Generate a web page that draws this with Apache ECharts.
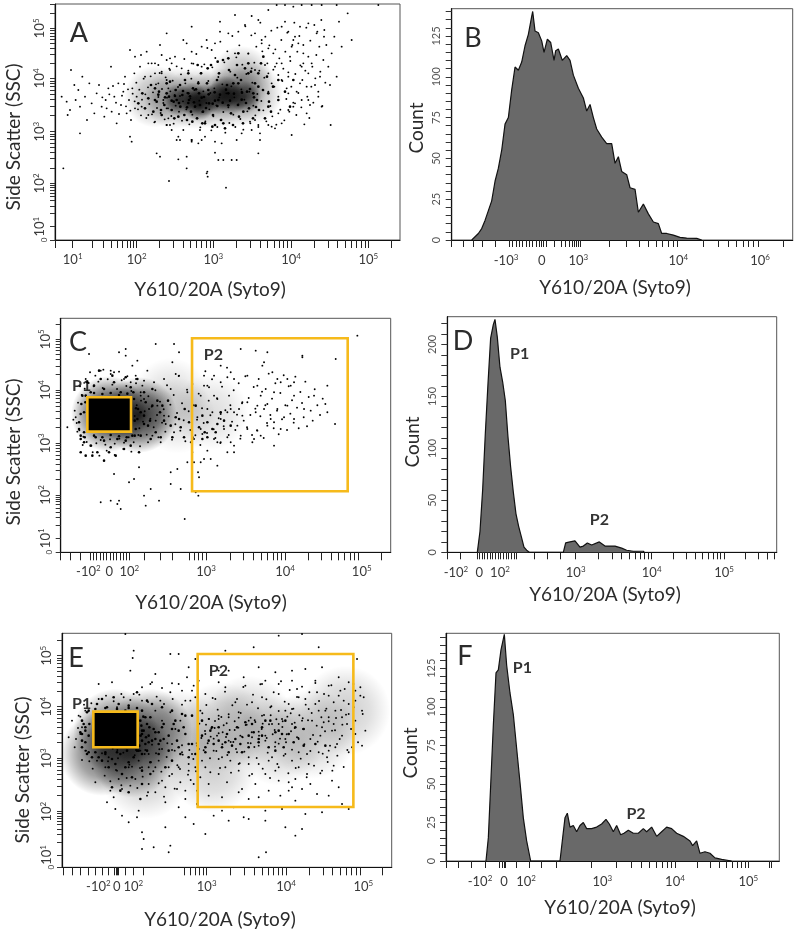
<!DOCTYPE html>
<html><head><meta charset="utf-8">
<style>html,body{margin:0;padding:0;background:#fff}#c{width:800px;height:934px;filter:blur(.35px)}</style>
<script src="https://cdn.jsdelivr.net/npm/echarts@6/dist/echarts.min.js"></script></head>
<body><div id="c"></div>
<script>
// All event values are display channels (flat x,y pairs).
const sparseA=[20,430,35,415,38,375,45,390,48,510,58,465,62,420,70,450,75,400,82,490,90,430,96,360,103,470,110,410,118,380,125,440,132,465,140,400,148,370,152,420,160,455,168,520,170,385,178,430,185,350,190,470,198,405,205,445,210,490,215,380,222,420,228,360,232,455,238,500,240,395,245,430,25,215,75,320,225,310,230,295,305,260,315,250,370,242,395,215,455,200,458,190,457,205,342,177,513,157,480,262,490,240,505,240,530,240,545,240,610,260,615,320,615,300,545,300,590,330,560,320,435,330,440,300,450,310,410,300,370,310,375,300,430,290,480,295,500,290,640,690,665,705,690,705,715,700,740,705,770,705,800,705,845,705,970,705,878,680,890,600,807,610,827,345,800,400,710,315,755,380,540,675,590,672,610,660,495,655,410,640,395,590,495,625,385,600,335,620,225,570,258,555,275,565,320,555,360,550,300,530,345,510,410,565,440,580,455,600,480,590,520,620,550,625,570,645,600,620,620,600,640,575,655,560,680,640,690,655,700,625,720,610,735,640,715,600,760,650,785,620,730,590,745,560,705,550,665,530,630,525,600,510,680,530,710,580,740,520,770,530,795,490,780,465,760,500,700,490,680,480,735,470,760,420,790,430,720,410,700,390,670,380,680,350,650,340,610,345,585,355,755,460,660,520,640,500,580,560,540,560,470,570,440,520,410,530,380,515,350,530,310,525,280,530,255,520,240,550,270,490,300,500,335,540,620,590,650,470,670,495,695,455,725,445,745,530,560,445,590,515,345,545,335,480,340,455,325,420,335,395,340,365,345,345,350,330,365,300,385,330,335,345,300,355,280,375,260,400,300,420,320,505,310,470,290,530,315,585,320,500,335,345,410,295,395,250,410,300,600,360,640,345,660,335,715,400,740,420,765,405,700,440,655,460];
const moreA=[142,428,155,395,163,437,174,462,183,412,192,378,201,433,207,468,213,401,219,452,226,388,233,439,239,416,244,472,249,392,253,451,258,374,261,421,266,484,271,437,274,366,279,458,283,408,287,491,291,377,294,443,298,353,303,467,306,396,310,429,314,501,317,381,321,453,325,411,329,362,332,488,336,427,339,395,343,514,346,446,349,372,353,478,356,349,359,435,362,403,365,521,369,459,372,385,375,432,378,497,381,358,384,416,388,543,391,470,394,392,397,441,400,508,403,347,406,425,409,484,412,376,415,529,418,450,421,401,424,558,427,365,430,474,433,418,436,338,439,501,442,384,445,446,448,527,451,356,454,411,457,576,460,477,463,392,466,441,469,329,472,518,475,371,478,455,481,546,484,404,487,339,490,489,493,428,496,595,499,361,502,467,505,384,508,533,511,322,514,440,517,566,520,398,523,351,526,505,529,461,532,612,535,376,538,428,541,339,544,548,547,487,550,407,553,584,556,363,559,452,562,526,565,331,568,421,571,641,574,498,577,386,580,559,583,445,586,350,589,614,592,472,595,403,598,532,601,374,604,580,607,438,610,339,613,508,616,652,619,417,622,566,625,389,628,487,631,610,634,356,637,530,640,445,643,584,646,402,649,628,652,371,655,511,658,460,661,572,664,346,667,637,670,430,673,545,676,391,679,600,682,477,685,514,688,359,691,565,694,423,697,622,700,503,703,385,706,537,709,460,712,585,715,412,718,652,721,498,724,375,727,565,730,441,733,612,736,524,739,398,742,480,745,585,748,347,751,508,754,637,757,430,760,550,763,366,766,598,769,460,772,520,775,412,778,645,781,485,784,555,787,625,790,445,793,580,796,505,799,660,802,402,805,540,808,630,811,472,814,585,820,520,825,465,830,560,838,610,845,490,852,655,860,580];
const midA=[250,410,262,440,270,395,280,425,288,465,295,385,305,415,312,445,320,375,328,405,335,470,342,430,350,390,356,415,362,450,370,370,376,400,382,435,390,480,396,360,402,420,408,385,414,455,420,400,426,365,432,440,438,500,444,385,450,350,456,470,462,410,468,525,474,375,480,345,486,480,492,500,498,360,504,540,510,335,516,465,522,510,528,380,534,345,540,495,546,525,552,370,558,480,564,350,570,515,576,445,582,395,588,505,594,365,600,470,606,420,612,390,618,530,624,450,630,365,636,490,642,415,648,385,654,460,300,455,318,390,345,475,358,365,375,465,388,375,400,500,412,355,428,525,442,350,458,515,472,340,488,535,505,350,520,545,535,470,550,560,565,385,580,530,595,440,610,500,625,550,640,400,300,420,335,440,365,420,400,440,430,470,460,450,490,420,520,440,550,470,580,500,610,460,640,440,670,420,670,480,690,445,705,400,715,480,360,432,372,411,384,447,396,398,405,431,417,413,423,452,435,405,447,429,453,396,461,437,473,409,479,443,487,402,495,436,503,412,513,451,525,418,537,439,549,405,561,442,573,411,585,453,597,428,603,399,560,421,520,404,480,418,440,427,400,411,350,418,330,428,310,436];
const sparseC=[20,375,85,595,195,610,285,625,160,540,120,545,245,500,340,625,335,570,345,535,355,600,160,235,150,155,175,155,170,145,120,150,180,130,220,220,205,210,270,190,295,155,250,170,235,255,255,140,330,205,360,190,372,100,405,180,412,240,415,225,413,170,400,270,390,330,430,280,470,260,520,320,540,610,585,605,620,600,725,585,825,580,823,385,800,420,890,650,725,590,610,570,635,540,660,510,640,480,680,520,690,500,605,560,560,530,520,520,500,525,480,510,460,470,420,470,440,430,410,405,420,370,455,420,480,400,510,430,530,380,560,370,590,440,620,445,650,430,680,440,700,470,730,430,760,470,640,390,620,380,660,370,580,340,540,350,510,330,500,300,460,340,440,305,420,270,450,280,470,330,490,370,520,300,545,410,560,450,600,470,585,420,575,330,600,350,640,320,500,345,425,355,400,340,395,300,500,420,470,460,445,495,430,530,395,505,380,480,355,530,330,490,310,520,280,510,260,545,240,480,225,530,215,560,230,575,195,590,175,600,150,545,190,520,210,510,250,460,290,440,315,385,340,360,310,410,285,395,265,430,240,470,380,270,350,250,330,240,300,330,275,350,480,330,520,420,545,450,440,500,460,530,480,560,510,540,535,430,480,415,505,470,430,500,590,365,610,430,630,400,670,405,700,400,590,500,615,490,650,520,700,510];
const moreC=[222,409,228,441,236,372,241,455,247,392,252,423,258,353,263,468,269,401,273,437,279,375,284,486,289,412,293,345,298,452,304,389,309,429,314,362,319,501,324,408,329,443,334,338,339,472,344,384,349,418,354,529,359,365,364,447,369,396,374,333,379,488,384,423,389,367,394,512,399,441,404,351,409,398,414,476,419,322,424,432,429,388,434,543,439,358,444,455,449,411,454,519,459,369,464,343,469,462,474,402,479,328,484,497,489,378,494,426,499,554,504,352,509,441,514,392,519,486,524,367,529,413,534,507,539,341,544,447,549,395,554,528,559,375,564,463,569,412,574,352,579,496,584,431,589,366,594,520,599,408,604,482,609,343,614,441,619,388,624,536,629,412,634,461,639,372,644,507,649,425,654,354,659,478,664,399,669,531,674,441,679,367,684,498,689,416,694,456,699,389,704,527,709,434,714,372,719,481,724,448,729,405,734,512,739,378,744,466,750,425,756,395,762,489,770,441,778,412,786,461,794,445,800,500,42,425,48,388,52,449,56,366,63,472,68,347,72,491,78,331,84,508,92,320,99,498,107,327,113,512,120,337,126,493,134,323,141,519,148,339,155,503,162,326,169,490,176,341,183,516,190,329,197,499,204,345,212,484,219,330,226,507,233,352,45,405,38,398,50,362,58,498,66,322,75,520,88,540,96,300,104,530,116,290,128,548,138,305,150,535,162,292,175,542,188,310,200,528,212,302,226,520,238,318,250,515,262,330];
const midC=[240,350,250,410,262,380,275,440,285,360,298,420,310,395,322,455,335,345,345,405,360,375,372,430,385,390,395,345,405,440,415,375,425,410,432,360,255,450,268,395,290,455,305,440,270,340,300,345,230,400,225,370,232,430,90,320,110,300,130,335,150,315,170,340,190,310,60,350,70,420,55,390,70,330,60,300,100,500,130,490,160,510,120,520,90,480,75,470,80,510,180,480,210,495,230,520,250,480,275,490,155,530,195,525,115,545,60,340,75,290,105,345,95,290,130,275,145,300,165,290,195,335,210,320,235,300,215,350,355,400,370,345,330,380,440,390,455,370,470,385,480,420,425,340,440,345,465,360,490,395,510,380,220,460,240,420,250,385,222,350,218,480,65,470,72,345,60,415,55,370,62,445,100,350,125,345,150,352,175,348,198,345,100,478,125,475,150,478,175,472,200,476,222,395,226,432,70,360,74,450];
const coreC=[100,381,135,381,170,381,195,381,100,415,135,415,170,415,195,415,100,448,135,448,170,448,195,448];
const sparseE=[190,700,215,650,212,628,350,640,205,590,110,550,280,580,325,640,380,600,400,625,490,650,575,660,770,660,650,695,720,700,790,715,870,710,885,625,905,510,240,105,245,85,240,55,275,60,320,45,325,65,590,30,612,45,160,175,200,135,225,150,310,120,350,180,405,190,455,155,480,170,515,180,545,150,560,145,610,170,670,120,700,95,720,115,730,160,780,165,840,190,860,175,800,215,700,200,660,175,610,140,500,140,430,100,395,130,370,150,310,195,255,215,230,170,180,155,135,195,155,210,145,230,180,235,100,255,370,230,405,230,440,250,495,255,540,235,580,250,620,230,650,260,690,240,745,250,765,220,810,260,830,240,710,300,680,255,735,280,815,305,780,290,795,330,640,290,610,280,570,280,530,290,490,300,470,280,430,300,415,270,380,290,355,255,330,280,300,260,280,300,260,250,240,300,220,265,200,300,165,290,130,300,455,350,480,330,525,345,560,330,590,365,630,330,670,340,710,345,735,340,770,345,800,350,825,370,860,345,900,365,880,400,840,395,810,410,775,395,745,385,705,390,670,385,640,375,610,395,570,390,535,395,500,380,465,395,430,400,405,365,390,340,360,345,330,370,300,355,260,340,235,350,680,230,700,265,720,235,655,215,590,210,560,205,530,225,480,210,440,215,395,250,345,235,310,240,280,225,205,245,170,265,140,330,105,320,70,350,55,400,20,390,30,440,50,455,60,420,770,470,800,515,835,530,765,525,730,505,705,535,680,490,650,520,625,480,600,510,570,495,550,545,520,495,490,540,460,505,430,520,410,560,390,530,370,500,790,470,820,470,845,500,875,480,815,430,855,430,785,435,750,440,720,440,690,475,660,445,630,430,600,455,560,440,530,465,500,450,470,455,440,445,415,470,400,510,375,570,350,550,325,525,295,500,265,550,240,500,215,520,185,510,165,480,150,555,280,470,300,440,325,465,340,415,355,440,470,555,500,590,470,590,545,570,590,600,610,560,640,585,690,590,730,595,780,600,830,570,860,555,800,545,760,560,690,560,650,550,600,550,880,530,895,540,650,430,670,470,690,430,710,510,740,475,760,490,780,420,800,450,840,450,860,460,880,500,900,470,820,360,870,360,740,310,690,320,650,300,620,320,590,310,560,310,530,310,505,320,470,325,445,285,420,320,400,300,380,310,350,300,320,300,290,320,260,300,230,320];
const moreE=[412,431,418,388,421,462,425,351,429,409,433,487,437,372,441,445,444,327,448,416,452,508,455,386,459,439,463,349,467,473,470,402,474,298,478,451,481,369,485,426,489,527,492,391,496,337,500,459,503,412,507,284,511,486,514,376,518,438,522,355,525,505,529,419,533,312,536,463,540,392,544,541,547,347,551,427,555,488,558,373,562,275,566,449,569,405,573,518,577,361,580,436,584,328,588,477,591,395,595,549,599,415,602,296,606,457,610,380,613,504,617,344,621,429,624,268,628,483,632,399,635,525,639,362,643,444,646,310,650,469,654,386,657,558,661,421,665,335,668,497,672,375,676,452,679,282,683,532,687,408,690,353,694,476,698,434,701,298,705,511,709,388,712,456,716,326,720,542,723,415,727,369,731,488,734,270,738,441,742,525,745,349,749,463,753,397,756,305,760,553,764,425,767,377,771,499,775,282,778,450,782,341,786,520,789,408,793,476,797,316,800,438,804,365,808,546,811,290,815,495,819,411,822,448,826,335,830,515,833,385,837,472,841,428,845,301,848,535,852,458,856,352,860,490,867,415,874,550,880,440,888,375,895,515,902,460,910,410,432,428,446,392,458,418,470,445,482,405,494,432,506,376,518,412,530,449,542,390,554,428,566,372,578,441,590,407,602,431,614,388,626,456,638,412,650,371,662,438,674,399,686,462,698,418,710,385,722,447,120,342,138,318,152,356,168,327,184,344,202,308,218,336,234,298,250,352,266,316,282,342,298,287,314,331,330,352,346,306,362,338,378,278,394,325,410,355,128,275,145,258,162,292,178,246,194,268,210,302,226,238,242,272,258,225,274,288,290,252,306,212,322,274,338,236,354,295,370,205,386,262,402,288,142,368,166,352,192,360,222,352,248,340,270,368,292,354,316,372,338,350,360,366,382,352,404,372,72,350,60,322,82,318,92,296,70,470,55,452,48,418,42,385,38,360,66,488,88,492,110,505,132,515,155,498,178,520,205,502,232,518,258,496,284,512,306,490,332,505,360,488,385,500,240,540,270,555,300,538,330,552,360,530,395,545];
const midE=[240,340,265,315,290,340,310,300,330,320,355,340,380,330,400,340,430,360,455,370,480,360,510,365,535,370,560,360,590,375,620,360,640,350,665,360,695,375,725,365,760,370,790,365,240,410,260,375,280,405,305,385,330,415,345,380,370,400,390,370,420,395,445,410,470,420,495,400,525,420,550,435,575,405,600,420,625,440,650,410,670,440,700,420,725,415,470,380,500,345,540,345,430,345,450,420,420,440,390,455,360,460,330,470,300,480,270,490,250,450,290,370,320,350,350,360,380,370,440,380,490,375,520,385,560,395,600,395,640,405,660,400,680,400,610,440,590,385,570,430,110,330,130,340,150,325,175,340,200,315,230,350,255,350,160,310,190,300,140,300,120,320,90,330,75,340,60,380,70,410,55,405,240,400,255,430,65,430,80,470,105,490,135,480,170,490,200,485,240,470,265,450,190,470,155,510,225,525,255,500,120,505,240,290,210,270,180,280,150,240,215,330,240,250,265,280,235,205,200,225,175,230,340,440,370,455,240,380,245,410,235,440,260,395,275,415,290,405,250,370,225,350,195,350,165,345,130,345,100,345,80,345,75,465,100,475,130,478,165,475,200,478,225,478,270,380,295,380,300,420,60,360,60,400,60,440,70,375,70,420,80,395,82,430,232,365,236,395,238,425,244,452,252,390,262,420,280,385,305,430,320,395,335,430,350,410,365,420];
const coreE=[113,379,148,379,183,379,208,379,113,413,148,413,183,413,208,413,113,447,148,447,183,447,208,447];
const glowBigA=[300,430,360,425,420,425,480,425,540,430,590,440,560,490],glowSmallA=[370,420,410,425,450,420,490,425,530,425,570,430,430,405,510,445];
const glowBigC=[145,415,235,412],glowFarC=[350,410,450,420,330,470];
const glowBigE=[160,410,265,410,120,340,210,335],glowFarE=[350,400,480,420,560,440,450,300,250,280,650,380,750,400,850,470];
// Histogram outlines: [channel, count]
const histB=[[60,0],[70,2],[80,4],[90,7],[100,12],[110,18],[120,24],[130,36],[140,44],[150,55],[160,71],[170,75],[180,92],[190,106],[200,104],[210,109],[220,119],[230,126],[240,137],[243,140],[250,128],[260,127],[270,122],[277,115],[287,123],[297,121],[307,110],[312,116],[320,117],[332,110],[345,113],[355,110],[365,101],[380,93],[395,87],[405,79],[415,83],[425,75],[435,68],[450,63],[465,59],[480,59],[490,47],[500,51],[510,42],[525,40],[535,32],[550,31],[560,17],[575,22],[590,16],[605,11],[620,10],[630,4],[645,4],[665,3],[685,1.6],[705,1.2],[735,1],[750,0]];
const histD=[[90,0],[98,20],[106,60],[114,114],[122,162],[130,206],[138,219],[143,224],[150,207],[158,178],[166,164],[174,146],[182,111],[190,82],[198,58],[206,37],[214,25],[222,15],[230,5],[238,2],[246,0],[348,0],[355,9],[368,10],[383,11],[398,5],[408,6],[420,9],[433,7],[456,10],[473,6],[488,6],[503,6],[523,4],[538,2],[558,1],[588,1],[591,0]];
const histF=[[120,0],[127,15],[134,49],[142,88],[150,122],[157,124],[165,137],[175,147],[182,127],[192,109],[202,95],[212,73],[222,51],[232,28],[242,13],[254,0],[342,0],[350,15],[357,28],[364,31],[372,22],[382,23],[392,19],[402,23],[412,25],[422,21],[437,21],[452,22],[467,24],[480,27],[490,24],[502,19],[512,23],[524,17],[534,18],[547,20],[562,18],[577,18],[592,21],[602,19],[617,22],[632,16],[647,19],[662,22],[677,21],[692,18],[712,16],[732,13],[740,10],[752,13],[762,5],[777,6],[792,5],[807,2],[827,1],[857,0]];
// Tick labels and their channels
const xLabA=['10^1','10^2','10^3','10^4','10^5'],xPosA=[53,245,475,708,940];
const yLabS=['0','10^1','10^2','10^3','10^4','10^5'];
const yPosA=[0,40,170,325,485,635],yPosC=[0,42,172,327,487,639],yPosE=[0,37,167,327,482,635];
const xLabB=['-10^3','0','10^3','10^4','10^6'],xPosB=[163,270,380,680,925];
const xLabC=['-10^2','0','10^2','10^3','10^4','10^5'];
const xPosC=[83,146,206,436,673,903],xPosD=[26,96,158,385,613,830],xPosE=[109,164,214,434,672,904],xPosF=[102,174,240,469,687,907];
const xLabD=['-10^2','0','10^2','10^3','10^4','10^5'];
const yLabB=['0','25','50','75','100','125'],yPosB=[0,25,50,75,100,125];
const yLabD=['0','50','100','150','200'],yPosD=[0,50,100,150,200];
// Gates [x0,y0,x1,y1] and their names
const gatesC=[[80,362,211,465],[394,183,861,642]],gatesE=[[94,360,227,467],[407,181,874,640]];
const gateNamesC=[['P1',63,499],['P2',458,592]],gateNamesE=[['P1',59,489],['P2',469,589]];
const gateNamesD=[['P1',217,191],['P2',456,31]],gateNamesF=[['P1',229,125],['P2',570,30.5]];

const FONT='Lato, "Open Sans", sans-serif',GATE='#F6BA1B',INK='#2b2b2b';
const pairs=a=>{const r=[];for(let i=0;i<a.length;i+=2)r.push([a[i],a[i+1]]);return r;};
const dec=(a,b)=>{const r=[];for(let k=1;k<10;k++)r.push(a+(b-a)*Math.log10(k));return r;};
const fmt=v=>{if(v==='0z')return '{z|0}';const [b,s]=String(v).split('^');return s?`{b|${b}}{s|${s}}`:`{b|${b}}`;};
const P=[
 {k:'A',l:55,t:4,w:345,h:236,xm:1035,ym:708,xp:xPosA,xl:xLabA,yp:yPosA,yl:yLabS,
  xt:[0,...dec(53,245),...dec(245,475),...dec(475,708),...dec(708,940),...dec(940,1172).filter(v=>v<1035)],
  yt:[0,...dec(40,170),...dec(170,325),...dec(325,485),...dec(485,635),...dec(635,785).filter(v=>v<708)]},
 {k:'B',l:451.7,t:8.7,w:341,h:231.3,xm:1023,ym:141.7,xp:xPosB,xl:xLabB,yp:yPosB,yl:yLabB,
  xt:[0,35,65,93,130,173,183,193,203,213,223,233,243,253,263,268,275,283,...dec(275,385),...dec(385,678),...dec(678,930),995],
  yt:[0,5,10,15,20,25,30,35,40,45,50,55,60,65,70,75,80,85,90,95,100,105,110,115,120,125,130,135,140]},
 {k:'C',l:60.7,t:318.3,w:330,h:234,xm:990,ym:702,xp:xPosC,xl:xLabC,yp:yPosC,yl:yLabS,
  xt:[0,30,60,...[88,98,108,118,128,138,148,158,168,178,188,198,206],250,300,335,...dec(206,436).slice(5),...dec(436,673),...dec(673,903),963],
  yt:[0,...dec(42,172),...dec(172,327),...dec(327,487),...dec(487,639),...dec(639,790).filter(v=>v<702)]},
 {k:'D',l:447.3,t:316.7,w:329.4,h:235.6,xm:988,ym:226.6,xp:xPosD,xl:xLabD,yp:yPosD,yl:yLabD,
  xt:[0,38,90,...[96,104,112,120,128,136,144,152,160,168,176,184,192,200,208],260,300,340,...dec(385,613),...dec(613,830),...dec(830,1045).slice(0,9),960],
  yt:[0,10,20,30,40,50,60,70,80,90,100,110,120,130,140,150,160,170,180,190,200,210,220]},
 {k:'E',l:62,t:633.3,w:329.7,h:234,xm:989,ym:702,xp:xPosE,xl:xLabC,yp:yPosE,yl:yLabS,
  xt:[5,30,55,78,100,120,138,158,163,166,170,190,214,245,...dec(214,434).slice(4),...dec(434,672),...dec(672,904),960],
  yt:[0,...dec(37,167),...dec(167,327),...dec(327,482),...dec(482,635),...dec(635,790).filter(v=>v<702)]},
 {k:'F',l:446,t:633.3,w:333.3,h:227.7,xm:1000,ym:147.7,xp:xPosF,xl:xLabD,yp:yPosB,yl:yLabB,
  xt:[0,38,75,118,160,168,174,178,212,250,285,330,...dec(435,687).slice(0,9),...dec(687,907),...dec(907,1120).slice(0,3),975],
  yt:[0,5,10,15,20,25,30,35,40,45,50,55,60,65,70,75,80,85,90,95,100,105,110,115,120,125,130,135,140,145]}
];
const rich={b:{fontFamily:FONT,fontSize:13,color:'#3a3a3a',lineHeight:16},s:{fontFamily:FONT,fontSize:8,color:'#3a3a3a',verticalAlign:'top',lineHeight:14},z:{fontFamily:FONT,fontSize:8,color:'#3a3a3a'}};
const hrich={b:{fontFamily:FONT,fontSize:11,color:'#555',lineHeight:14},s:rich.s,z:rich.z};
const grid=[],xAxis=[],yAxis=[],series=[];
P.forEach((p,i)=>{
 const scatter=p.ym>300;
 grid.push({left:p.l,top:p.t,width:p.w,height:p.h,show:true,borderColor:'#555',borderWidth:1,backgroundColor:'#fff'});
 xAxis.push({gridIndex:i,type:'value',min:0,max:p.xm,splitLine:{show:false},
  axisLine:{onZero:false,lineStyle:{color:'#111',width:1.2}},
  axisTick:{show:true,customValues:p.xt,length:scatter?8:7,lineStyle:{color:'#222',width:1}},
  axisLabel:{customValues:p.xp,margin:scatter?12:13,hideOverlap:false,formatter:v=>fmt(p.xl[p.xp.indexOf(v)]),rich}});
 yAxis.push({gridIndex:i,type:'value',min:0,max:p.ym,splitLine:{show:false},
  axisLine:{onZero:false,lineStyle:{color:'#111',width:1.2}},
  axisTick:{show:true,customValues:p.yt,length:scatter?5:6,lineStyle:{color:'#333',width:1}},
  axisLabel:{customValues:p.yp,rotate:90,margin:scatter?7:8,hideOverlap:false,formatter:v=>{const t=p.yl[p.yp.indexOf(v)];return fmt(scatter&&t==='0'?'0z':t);},rich:scatter?rich:hrich}});
});
const dots=(i,a,s,sym)=>series.push({type:'scatter',xAxisIndex:i,yAxisIndex:i,data:pairs(a),symbol:sym||'circle',symbolSize:s,silent:true,itemStyle:{color:'#000',opacity:1}});
const glow=(i,a,s,al)=>series.push({type:'scatter',xAxisIndex:i,yAxisIndex:i,data:pairs(a),symbolSize:s,silent:true,
 itemStyle:{opacity:1,color:{type:'radial',x:.5,y:.5,r:.5,colorStops:[{offset:0,color:`rgba(0,0,0,${al})`},{offset:.55,color:`rgba(0,0,0,${al*.6})`},{offset:1,color:'rgba(0,0,0,0)'}]}}});
const hist=(i,d)=>series.push({type:'line',xAxisIndex:i,yAxisIndex:i,data:d,showSymbol:false,silent:true,lineStyle:{color:'#111',width:1.2},areaStyle:{color:'#696969',opacity:1}});
const gates=(i,g)=>series.push({type:'custom',xAxisIndex:i,yAxisIndex:i,data:g,z:6,silent:true,encode:{x:[0,2],y:[1,3]},
 renderItem:(pr,api)=>{const a=api.coord([api.value(0),api.value(1)]),b=api.coord([api.value(2),api.value(3)]);
  return {type:'rect',shape:{x:a[0],y:b[1],width:b[0]-a[0],height:a[1]-b[1]},style:{fill:'none',stroke:GATE,lineWidth:2.6}};}});
const names=(i,n)=>series.push({type:'scatter',xAxisIndex:i,yAxisIndex:i,z:7,silent:true,symbolSize:0,
 data:n.map(d=>({name:d[0],value:[d[1],d[2]]})),label:{show:true,position:'inside',formatter:'{b}',fontFamily:FONT,fontWeight:'bold',fontSize:16,color:'#000'}});
glow(0,glowBigA,62,.3);glow(0,glowSmallA,32,.6);dots(0,sparseA,1.9);dots(0,moreA,1.9);dots(0,midA,2.7);
hist(1,histB);
glow(2,glowBigC,76,.85);glow(2,glowFarC,76,.14);dots(2,sparseC,1.9);dots(2,moreC,1.9);dots(2,midC,2.6);dots(2,coreC,13,'rect');gates(2,gatesC);names(2,gateNamesC);
hist(3,histD);names(3,gateNamesD);
glow(4,glowBigE,84,.6);glow(4,glowFarE,90,.2);dots(4,sparseE,1.9);dots(4,moreE,1.9);dots(4,midE,2.6);dots(4,coreE,13,'rect');gates(4,gatesE);names(4,gateNamesE);
hist(5,histF);names(5,gateNamesF);
const txt=(t,x,y,size,rot)=>({type:'text',x,y,rotation:rot?Math.PI/2:0,z:20,silent:true,style:{text:t,font:`${size}px ${FONT}`,fill:INK,textAlign:'center',textVerticalAlign:'middle'}});
const XT='Y610/20A (Syto9)',SSC='Side Scatter (SSC)';
const graphic=[txt('A',79,33,27),txt('B',473,38,27),txt('C',78,342,27),txt('D',463,341,27),txt('E',76,658,27),txt('F',465,656,27),
 txt(XT,210,290,19),txt(XT,615,288,19),txt(XT,211,603,19),txt(XT,605,595,19),txt(XT,220,920,19),txt(XT,620,908,19),
 txt(SSC,14,137,19,1),txt('Count',417,128,19,1),txt(SSC,14,452,19,1),txt('Count',413,442,19,1),txt(SSC,23,770,19,1),txt('Count',411,753,19,1)];
const chart=echarts.init(document.getElementById('c'),null,{renderer:'canvas'});
chart.setOption({animation:false,backgroundColor:'#fff',grid,xAxis,yAxis,series,graphic});
</script></body></html>
